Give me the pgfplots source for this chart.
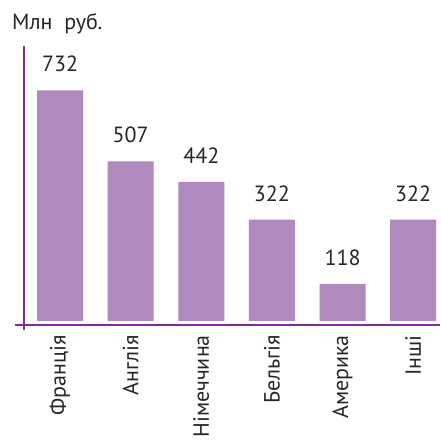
\documentclass[border=0pt]{standalone}
\usepackage{pgfplots}
\pgfplotsset{compat=1.18}
\usepackage{fontspec}
\setmainfont{PT Sans}
\definecolor{barc}{HTML}{B089BE}
\definecolor{axc}{HTML}{7E2E92}
\newcommand\lf{\fontsize{22}{26}\selectfont}
\begin{document}
\begin{tikzpicture}[x=1pt,y=1pt]
\useasboundingbox (0,0) rectangle (440,443);
\begin{axis}[
  at={(24pt,118pt)}, anchor=south west,
  scale only axis, width=416pt, height=279pt,
  xmin=-0.51, xmax=5.38, ymin=-12.7, ymax=873,
  axis x line=bottom, axis y line=left,
  axis line style={draw=none},
  /pgf/number format/assume math mode=true,
  ybar, bar width=46pt,
  xtick={0,...,5},
  xticklabels={Франція,Англія,Німеччина,Бельгія,Америка,Інші},
  major tick length=0pt,
  xticklabel style={font=\lf, yshift=-10pt, rotate=90, anchor=east, inner sep=0pt, text=black!85},
  ytick=\empty,
  nodes near coords,
  every node near coord/.append style={font=\lf, anchor=south, inner sep=0pt, yshift=18pt, text=black!85},
]
\addplot[fill=barc, draw=none] coordinates {(0,732) (1,507) (2,442) (3,322) (4,118) (5,322)};
\end{axis}
\draw[axc, line width=2.5pt] (24,113) -- (24,397);
\draw[axc, line width=2.5pt] (15,118) -- (440,118);
\node[anchor=base west, inner sep=0, font=\lf, text=black!85] at (12,413) {Млн\ \ руб.};
\end{tikzpicture}
\end{document}
